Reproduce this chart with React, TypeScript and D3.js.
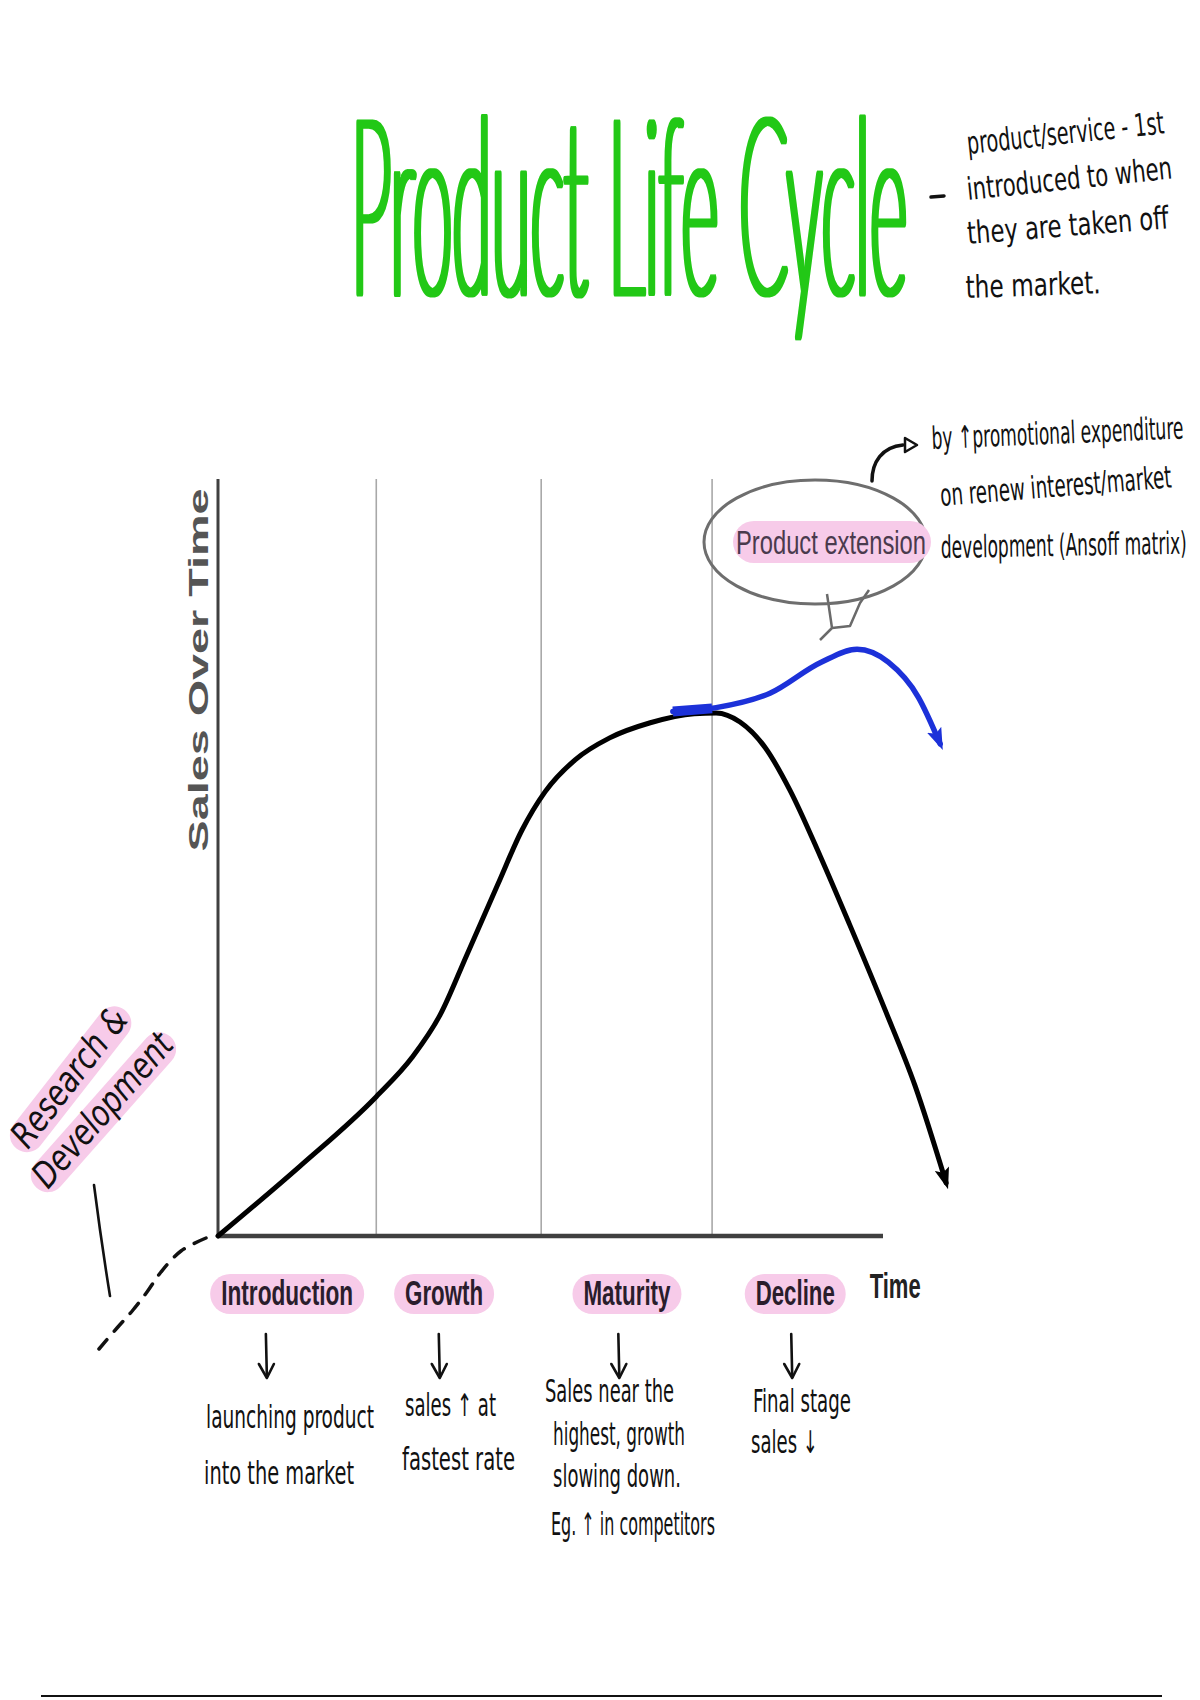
import React, { useLayoutEffect, useRef, useState } from "react";
import * as d3 from "d3";

// ---------------- data ----------------
const titleText = "Product Life Cycle";
const titleNote = ["product/service - 1st", "introduced to when", "they are taken off", "the market."];
const yAxisLabel = "Sales  Over  Time";
const xAxisLabel = "Time";
const stageNames = ["Introduction", "Growth", "Maturity", "Decline"];
const stageBoundaries = [23.8, 48.6, 74.3];
const stageMid = [10.4, 34.0, 61.5, 86.8];
const stageArrowAt = [7.2, 33.2, 60.2, 86.2];
const stageNotes = [
  ["launching product", "into the market"],
  ["sales \u2191 at", "fastest rate"],
  ["Sales near the", "highest, growth", "slowing down.", "Eg. \u2191 in competitors"],
  ["Final stage", "sales \u2193"],
];
const salesTime = [0, 12.3, 23.8, 29.2, 33.4, 37.4, 42.1, 45.7, 49.2, 53.7, 58.9, 65.0, 71.6, 74.9, 78.5, 82.3, 86.0, 90.5, 95.0, 100.3, 104.8, 109.5];
const salesValue = [0, 9.2, 18.4, 23.6, 29.2, 37.1, 46.5, 53.6, 58.7, 62.9, 65.8, 67.8, 69.0, 69.1, 67.9, 64.5, 58.9, 50.3, 41.1, 29.9, 19.9, 7.0];
const extensionTime = [68.4, 74.9, 83.0, 90.7, 96.1, 100.8, 105.3, 108.6];
const extensionValue = [69.3, 69.8, 71.7, 75.8, 77.5, 75.8, 71.2, 65.0];
const extensionStartEnd = 74.3;
const calloutLabel = "Product extension";
const extensionNote = ["by \u2191promotional expenditure", "on renew interest/market", "development (Ansoff matrix)"];
const rdLabel = ["Research &", "Development"];

// ---------------- layout ----------------
const W = 1200;
const H = 1700;
const hand = "'Liberation Sans Narrow', 'DejaVu Sans Condensed', 'Noto Sans', sans-serif";
const narrow = "'Liberation Sans Narrow', 'Liberation Sans', Arial, sans-serif";
const pink = "#f7cbe9";

const stageLabelW = [132, 78, 87, 79];
const noteX = [[206, 204], [405, 402], [545, 553, 553, 551], [753, 751]];
const noteY = [[1428, 1484], [1416, 1470], [1402, 1445, 1487, 1535], [1412, 1453]];
const noteW = [[168, 150], [91, 113], [129, 132, 128, 164], [98, 67]];

const titleNoteX = [968, 968, 968, 966];
const titleNoteY = [154, 200, 244, 298];
const titleNoteW = [198, 206, 202, 135];
const titleNoteR = [-6, -6, -4.5, -2];

const extNoteX = [932, 941, 941];
const extNoteY = [449, 506, 558];
const extNoteW = [252, 232, 246];
const extNoteR = [-2.4, -4.6, -1];

function Hand(props: { x: number; y: number; w: number; rot?: number; size?: number; sy?: number; children: string }) {
  const { x, y, w, rot = 0, size = 24, sy = 1.3, children } = props;
  return (
    <text
      transform={`translate(${x},${y}) rotate(${rot}) scale(1,${sy})`}
      fontFamily={hand}
      fontSize={size}
      textLength={w}
      lengthAdjust="spacingAndGlyphs"
      fill="#111"
    >
      {children}
    </text>
  );
}

export default function App() {
  const x = d3.scaleLinear().domain([0, 100]).range([218, 883]);
  const y = d3.scaleLinear().domain([0, 100]).range([1236, 479]);

  const titleRef = useRef<SVGTextElement>(null);
  const [titleSx, setTitleSx] = useState(0.3);
  useLayoutEffect(() => {
    if (titleRef.current) {
      const len = titleRef.current.getComputedTextLength();
      if (len > 0) setTitleSx(556 / len);
    }
  }, []);

  const salesPts = salesTime.map((t, i) => [t, salesValue[i]] as [number, number]);
  const extPts = extensionTime.map((t, i) => [t, extensionValue[i]] as [number, number]);

  const line = d3
    .line<[number, number]>()
    .x((d) => x(d[0]))
    .y((d) => y(d[1]))
    .curve(d3.curveMonotoneX);

  const salesPath = line(salesPts) || "";
  const extPath = line(extPts) || "";
  const extStartPath =
    line(extPts.filter((d) => d[0] <= extensionStartEnd).concat([[extensionStartEnd, 69.7]])) || "";

  const [x0, x1] = x.range();
  const [yBottom, yTop] = y.range();

  const rdDash =
    d3.line<[number, number]>().curve(d3.curveCatmullRom)([
      [206, 1238],
      [181, 1251],
      [161, 1272],
      [147, 1292],
      [133, 1310],
      [117, 1328],
      [99, 1349],
    ]) || "";

  return (
    <svg
      width={W}
      height={H}
      viewBox={`0 0 ${W} ${H}`}
      style={{ position: "absolute", left: 0, top: 0, display: "block" }}
    >
      <defs>
        <marker id="arrBlack" viewBox="0 0 20 14" refX="14" refY="7" markerWidth="22" markerHeight="15" markerUnits="userSpaceOnUse" orient="auto">
          <path d="M0,0 L20,7 L0,14 L4,7 z" fill="#000" />
        </marker>
        <marker id="arrBlue" viewBox="0 0 20 14" refX="14" refY="7" markerWidth="22" markerHeight="16" markerUnits="userSpaceOnUse" orient="auto">
          <path d="M0,0 L20,7 L0,14 L4,7 z" fill="#1c31d9" />
        </marker>
        <filter id="thicken" x="-5%" y="-5%" width="110%" height="110%" filterUnits="objectBoundingBox">
          <feMorphology operator="dilate" radius="2.2 0.4" />
        </filter>
      </defs>
      <rect x={0} y={0} width={W} height={H} fill="#fff" />

      {/* Title */}
      <g filter="url(#thicken)">
        <text
          ref={titleRef}
          transform={`translate(351,293) scale(${titleSx},2.42)`}
          fontFamily="Lato, Inter, 'Open Sans', sans-serif"
          fontWeight={100}
          fontSize={100}
          fill="#22c814"
          stroke="#22c814"
          strokeWidth={5}
          strokeLinejoin="round"
          strokeLinecap="round"
          style={{ vectorEffect: "non-scaling-stroke" } as any}
        >
          {titleText}
        </text>
      </g>
      <line x1={931} y1={197} x2={944} y2={196} stroke="#111" strokeWidth={3.5} strokeLinecap="round" />
      {titleNote.map((t, i) => (
        <Hand key={t} x={titleNoteX[i]} y={titleNoteY[i]} w={titleNoteW[i]} rot={titleNoteR[i]} size={22} sy={1.42}>
          {t}
        </Hand>
      ))}

      {/* gridlines */}
      {stageBoundaries.map((b) => (
        <line key={b} x1={x(b)} x2={x(b)} y1={yTop} y2={yBottom} stroke="#a8a8a8" strokeWidth={1.6} />
      ))}
      {/* axes */}
      <line x1={x0} x2={x0} y1={yTop} y2={yBottom} stroke="#404040" strokeWidth={3} />
      <line x1={x0} x2={x1} y1={yBottom} y2={yBottom} stroke="#404040" strokeWidth={4.5} />
      <text
        transform={`translate(208, 670) rotate(-90)`}
        textAnchor="middle"
        fontFamily="'Liberation Sans', Arial, sans-serif"
        fontWeight="bold"
        fontSize={28}
        textLength={363}
        lengthAdjust="spacingAndGlyphs"
        fill="#555"
      >
        {yAxisLabel}
      </text>

      {/* callout */}
      <path
        d="M827,594 L832,628 L820,640 M832,628 L850,626 L860,603 L869,590"
        fill="none"
        stroke="#6a6a6a"
        strokeWidth={2.5}
        strokeLinejoin="round"
      />
      <ellipse cx={815} cy={542} rx={111} ry={62} fill="none" stroke="#6e6e6e" strokeWidth={3} />
      <rect x={733} y={521} width={198} height={42} rx={21} fill={pink} />
      <text
        transform="translate(736,554) scale(1,1.18)"
        fontFamily={narrow}
        fontSize={28}
        textLength={190}
        lengthAdjust="spacingAndGlyphs"
        fill="#4a3a4d"
      >
        {calloutLabel}
      </text>
      <path d="M872,481 C872,462 882,447 903,445" fill="none" stroke="#111" strokeWidth={3.5} strokeLinecap="round" />
      <path d="M905,438 L917,445 L905,452 z" fill="none" stroke="#111" strokeWidth={2.5} strokeLinejoin="round" />
      {extensionNote.map((t, i) => (
        <Hand key={t} x={extNoteX[i]} y={extNoteY[i]} w={extNoteW[i]} rot={extNoteR[i]} size={20} sy={1.55}>
          {t}
        </Hand>
      ))}

      {/* curves */}
      <path d={salesPath} fill="none" stroke="#000" strokeWidth={5} strokeLinecap="round" markerEnd="url(#arrBlack)" />
      <path d={extPath} fill="none" stroke="#1c31d9" strokeWidth={5.5} strokeLinecap="round" markerEnd="url(#arrBlue)" />
      <path d={extStartPath} fill="none" stroke="#1c31d9" strokeWidth={10} strokeLinecap="butt" />

      {/* stage labels */}
      {stageNames.map((s, i) => {
        const cx = x(stageMid[i]);
        const w = stageLabelW[i];
        return (
          <g key={s}>
            <rect x={cx - w / 2 - 11} y={1274} width={w + 22} height={40} rx={20} fill={pink} />
            <text
              transform={`translate(${cx},1305) scale(1,1.3)`}
              textAnchor="middle"
              fontFamily={narrow}
              fontWeight="bold"
              fontSize={27}
              textLength={w}
              lengthAdjust="spacingAndGlyphs"
              fill="#2a1d2c"
            >
              {s}
            </text>
          </g>
        );
      })}
      <text
        transform={`translate(${x(98)},1298) scale(1,1.3)`}
        fontFamily={narrow}
        fontWeight="bold"
        fontSize={27}
        textLength={51}
        lengthAdjust="spacingAndGlyphs"
        fill="#222"
      >
        {xAxisLabel}
      </text>

      {/* stage arrows and notes */}
      {stageArrowAt.map((t, i) => {
        const ax = x(t);
        return (
          <g key={i} stroke="#111" strokeWidth={2.6} fill="none" strokeLinecap="round" strokeLinejoin="round">
            <line x1={ax} y1={1334} x2={ax + 1} y2={1377} />
            <path d={`M${ax - 7},${1364} L${ax + 1},${1378} L${ax + 8},${1364}`} />
          </g>
        );
      })}
      {stageNotes.map((lines, i) =>
        lines.map((t, j) => (
          <Hand key={`${i}-${j}`} x={noteX[i][j]} y={noteY[i][j]} w={noteW[i][j]}>
            {t}
          </Hand>
        ))
      )}

      {/* Research & Development */}
      <g transform="translate(28,1150) rotate(-52)">
        <rect x={-6} y={-27} width={176} height={34} rx={17} fill={pink} />
        <text x={0} y={0} fontFamily={hand} fontStyle="italic" fontSize={36} textLength={165} lengthAdjust="spacingAndGlyphs" fill="#111">
          {rdLabel[0]}
        </text>
      </g>
      <g transform="translate(48,1190) rotate(-48.5)">
        <rect x={-6} y={-27} width={202} height={34} rx={17} fill={pink} />
        <text x={0} y={0} fontFamily={hand} fontStyle="italic" fontSize={36} textLength={192} lengthAdjust="spacingAndGlyphs" fill="#111">
          {rdLabel[1]}
        </text>
      </g>
      <path d="M94,1185 Q101,1240 110,1296" fill="none" stroke="#111" strokeWidth={2.6} strokeLinecap="round" />
      <path d={rdDash} fill="none" stroke="#111" strokeWidth={3.5} strokeDasharray="13 11" strokeLinecap="round" />

      {/* bottom rule */}
      <line x1={41} x2={1162} y1={1696} y2={1696} stroke="#111" strokeWidth={2} />
    </svg>
  );
}
